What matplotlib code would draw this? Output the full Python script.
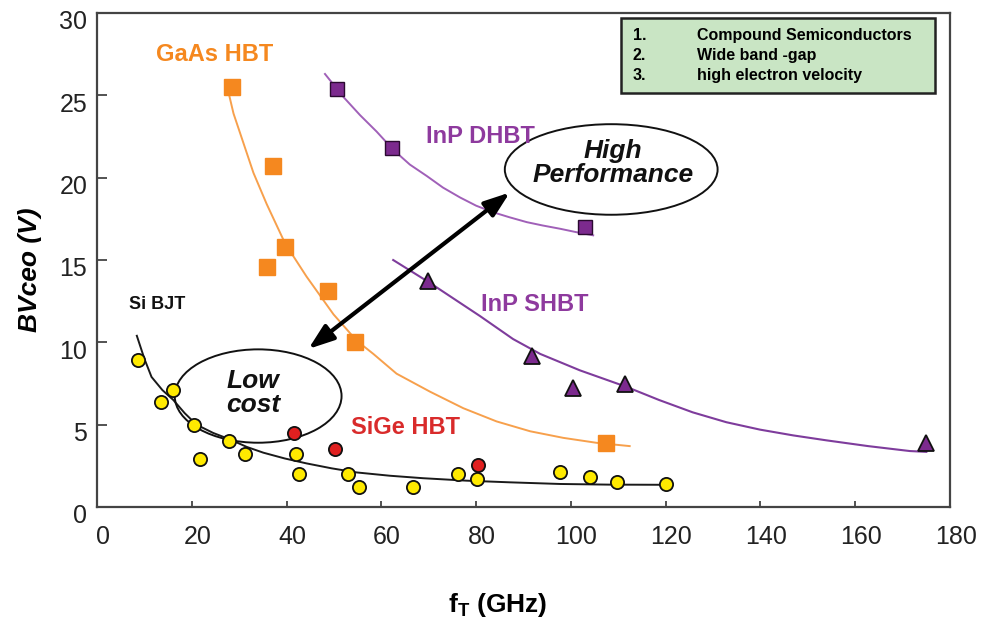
import matplotlib
matplotlib.use('Agg')
import matplotlib.pyplot as plt
from matplotlib.patches import Ellipse, Rectangle
from matplotlib.transforms import ScaledTranslation

plt.rcParams['font.family'] = ['Liberation Sans', 'DejaVu Sans']
plt.rcParams['mathtext.fontset'] = 'custom'
plt.rcParams['mathtext.rm'] = 'Liberation Sans'
plt.rcParams['mathtext.bf'] = 'Liberation Sans:bold'
plt.rcParams['mathtext.it'] = 'Liberation Sans:italic'

# ---------------- data (fT in GHz, BVceo in V) ----------------
gaas_ft = [28.4, 37.1, 39.7, 35.8, 48.8, 54.4, 107.5]
gaas_bv = [25.5, 20.7, 15.8, 14.6, 13.1, 10.0, 3.9]
gaas_trend_ft = [27.4, 28.8, 30.9, 33.0, 35.8, 39.7, 44.2, 49.9, 54.8, 58.3,
                 63.2, 70.3, 77.3, 84.3, 91.4, 98.4, 105.4, 112.4]
gaas_trend_bv = [25.6, 23.9, 22.1, 20.3, 18.4, 16.0, 14.0, 11.7, 10.1, 9.3,
                 8.1, 7.0, 6.0, 5.2, 4.6, 4.2, 3.9, 3.7]

dhbt_ft = [50.7, 62.2, 103.0]
dhbt_bv = [25.4, 21.8, 17.0]
dhbt_trend_ft = [48.1, 52.0, 55.5, 59.0, 62.5, 66.0, 69.6, 73.0, 76.6, 80.0,
                 83.6, 87.0, 90.7, 94.0, 97.7, 101.0, 104.7]
dhbt_trend_bv = [26.3, 24.9, 23.8, 22.8, 21.7, 20.8, 20.1, 19.4, 18.8, 18.3,
                 17.9, 17.6, 17.3, 17.1, 16.9, 16.7, 16.5]

shbt_ft = [69.9, 91.7, 100.5, 111.4, 175.0]
shbt_bv = [13.7, 9.2, 7.2, 7.5, 3.9]
shbt_trend_ft = [62.5, 70.3, 80.8, 87.8, 93.5, 101.9, 111.7, 118.6, 125.7, 132.8,
                 139.9, 146.9, 153.9, 162.7, 171.5, 175.0]
shbt_trend_bv = [15.0, 13.6, 11.6, 10.2, 9.3, 8.3, 7.3, 6.5, 5.75, 5.15,
                 4.7, 4.35, 4.05, 3.7, 3.4, 3.35]

sibjt_ft = [8.7, 16.1, 13.6, 20.5, 21.7, 27.9, 31.2, 41.9, 42.6, 53.0, 55.3,
            66.7, 76.1, 80.1, 97.7, 104.0, 109.8, 120.0]
sibjt_bv = [8.9, 7.1, 6.4, 5.0, 2.9, 4.0, 3.2, 3.2, 2.0, 2.0, 1.2,
            1.2, 2.0, 1.7, 2.1, 1.8, 1.5, 1.4]
sige_ft = [41.6, 50.2, 80.3]
sige_bv = [4.5, 3.5, 2.55]
si_trend_ft = [8.4, 10.0, 11.5, 13.8, 16.1, 18.5, 21.0, 24.5, 28.1, 31.6, 35.1,
               39.6, 44.2, 49.5, 54.8, 61.8, 68.8, 78.0, 87.1, 97.7, 108.0, 120.0]
si_trend_bv = [10.4, 9.0, 7.9, 7.1, 6.5, 5.7, 5.0, 4.5, 4.1, 3.65, 3.3,
               2.95, 2.65, 2.35, 2.1, 1.9, 1.75, 1.6, 1.5, 1.4, 1.36, 1.35]

x_ticks = [0, 20, 40, 60, 80, 100, 120, 140, 160, 180]
y_ticks = [0, 5, 10, 15, 20, 25, 30]
legend_items = ["Compound Semiconductors", "Wide band -gap", "high electron velocity"]

# ---------------- figure ----------------
fig = plt.figure(figsize=(9.84, 6.3), dpi=100)
ax = fig.add_axes([0.0986, 0.1952, 0.8669, 0.7841])
ax.set_xlim(0, 180)
ax.set_ylim(0, 30)

orange = '#F5881F'
orange_line = '#F7A04C'
purple = '#7C2A8E'
purple_text = '#8E3A9E'
red = '#D92B2B'

# trend lines
ax.plot(gaas_trend_ft, gaas_trend_bv, color=orange_line, lw=1.4, zorder=2)
ax.plot(dhbt_trend_ft, dhbt_trend_bv, color='#A060B8', lw=1.4, zorder=2)
ax.plot(shbt_trend_ft, shbt_trend_bv, color='#7E3C9C', lw=1.5, zorder=2)
ax.plot(si_trend_ft, si_trend_bv, color='#1a1a1a', lw=1.4, zorder=2)

# markers
ax.plot(gaas_ft, gaas_bv, 's', ms=11, color=orange, mec=orange, zorder=4)
ax.plot(dhbt_ft, dhbt_bv, 's', ms=10, color=purple, mec='#2a0a30', mew=1.0, zorder=4)
ax.plot(shbt_ft, shbt_bv, '^', ms=12, color=purple, mec='#111111', mew=1.3, zorder=4)
ax.plot(sibjt_ft, sibjt_bv, 'o', ms=9.5, color='#FFEA00', mec='#111111', mew=1.3, zorder=4)
ax.plot(sige_ft, sige_bv, 'o', ms=9.5, color='#E02020', mec='#111111', mew=1.3, zorder=4)

# ellipses
ax.add_patch(Ellipse((34.0, 6.74), 35.2, 5.67, fill=False, ec='#111111', lw=1.4, zorder=3))
ax.add_patch(Ellipse((108.5, 20.5), 44.9, 5.5, fill=False, ec='#111111', lw=1.4, zorder=3))

# double arrow
ax.annotate('', xy=(87.1, 19.1), xytext=(44.6, 9.6),
            arrowprops=dict(arrowstyle='<|-|>,head_length=0.7,head_width=0.25',
                            lw=3, color='black', mutation_scale=22,
                            shrinkA=0, shrinkB=0), zorder=5)

# annotations
ax.text(24.8, 27.5, 'GaAs HBT', color=orange, fontsize=17, fontweight='bold',
        ha='center', va='center')
ax.text(81.0, 22.5, 'InP DHBT', color=purple_text, fontsize=17, fontweight='bold',
        ha='center', va='center')
ax.text(92.4, 12.3, 'InP SHBT', color=purple_text, fontsize=17, fontweight='bold',
        ha='center', va='center')
ax.text(65.0, 4.8, 'SiGe HBT', color=red, fontsize=17, fontweight='bold',
        ha='center', va='center')
ax.text(12.6, 12.3, 'Si BJT', color='#111111', fontsize=13, fontweight='bold',
        ha='center', va='center')
ax.text(32.9, 6.9, 'Low\ncost', color='#111111', fontsize=19, fontweight='bold',
        fontstyle='italic', ha='center', va='center', linespacing=1.0)
ax.text(108.9, 20.9, 'High\nPerformance', color='#111111', fontsize=19,
        fontweight='bold', fontstyle='italic', ha='center', va='center',
        linespacing=1.0)

# legend-like box
ax.add_patch(Rectangle((0.614, 0.839), 0.368, 0.150, transform=ax.transAxes,
                       fc='#C9E5C4', ec='#222222', lw=1.8, zorder=6))
for i, item in enumerate(legend_items):
    yy = 0.955 - i * 0.0405
    ax.text(0.628, yy, f'{i + 1}.', transform=ax.transAxes, fontsize=11.5,
            fontweight='bold', ha='left', va='center', zorder=7)
    ax.text(0.703, yy, item, transform=ax.transAxes, fontsize=11.5,
            fontweight='bold', ha='left', va='center', zorder=7)

# axes styling
ax.set_xticks(x_ticks)
ax.set_yticks(y_ticks)
ax.tick_params(axis='both', direction='in', labelsize=18, colors='#222222')
ax.tick_params(axis='y', length=7, width=1.3, pad=7, color='#444444')
ax.tick_params(axis='x', length=4, width=1.3, pad=13, color='#444444')
for s in ax.spines.values():
    s.set_linewidth(1.6)
    s.set_color('#444444')

for lab in ax.get_yticklabels():
    lab.set_transform(lab.get_transform() + ScaledTranslation(0, -5 / 72, fig.dpi_scale_trans))
for lab in ax.get_xticklabels():
    lab.set_transform(lab.get_transform() + ScaledTranslation(4 / 72, 0, fig.dpi_scale_trans))

ax.set_ylabel('BVceo (V)', fontsize=19, fontweight='bold', fontstyle='italic')
ax.yaxis.set_label_coords(-0.064, 0.48)
ax.set_xlabel(r'$\mathbf{f}_{\mathbf{T}}$ (GHz)', fontsize=19, fontweight='bold')
ax.xaxis.set_label_coords(0.47, -0.17)

fig.savefig('out.png', dpi=100)
